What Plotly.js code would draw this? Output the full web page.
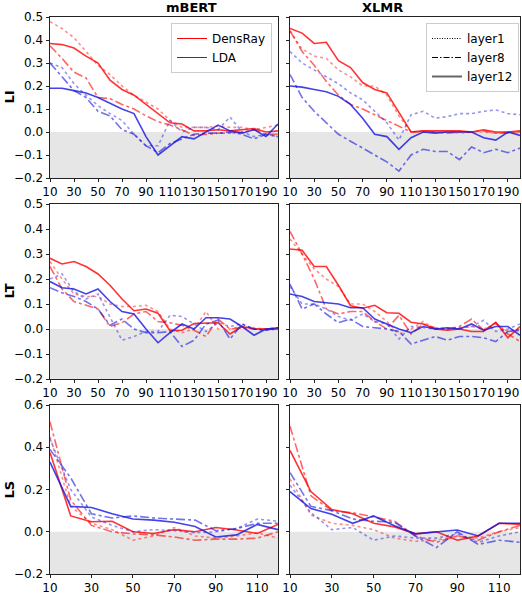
<!DOCTYPE html>
<html>
<head>
<meta charset="utf-8">
<script src="https://cdn.plot.ly/plotly-3.0.1.min.js"></script>
<style>
  body { margin: 0; background: #fff; }
  #chart { width: 522px; height: 596px; }
</style>
</head>
<body>
<div id="chart"></div>
<script>
// x steps
const xLong = [10, 20, 30, 40, 50, 60, 70, 80, 90, 100, 110, 120, 130, 140, 150, 160, 170, 180, 190, 200];
const xShort = [10, 20, 30, 40, 50, 60, 70, 80, 90, 100, 110, 120];

// LI, mBERT
const liBertDR1 = [0.48, 0.45, 0.41, 0.35, 0.29, 0.25, 0.2, 0.16, 0.13, 0.1, 0.05, 0.02, 0.02, 0.02, 0.025, 0.02, 0.02, 0.01, 0.02, 0.03];
const liBertDR8 = [0.375, 0.32, 0.26, 0.235, 0.15, 0.145, 0.12, 0.1, 0.07, 0.045, 0.03, 0.01, -0.015, -0.01, -0.005, -0.005, 0.0, 0.01, -0.01, -0.01];
const liBertDR12 = [0.385, 0.38, 0.365, 0.33, 0.3, 0.225, 0.185, 0.16, 0.12, 0.08, 0.04, 0.035, 0.005, 0.005, 0.01, 0.005, 0.01, 0.015, 0.0, 0.005];
const liBertLDA1 = [0.3, 0.28, 0.21, 0.16, 0.115, 0.08, 0.05, -0.01, -0.06, -0.06, 0.05, 0.0, 0.02, 0.02, 0.01, 0.065, 0.0, -0.02, -0.01, -0.02];
const liBertLDA8 = [0.3, 0.24, 0.18, 0.15, 0.09, 0.07, 0.01, -0.01, -0.06, -0.09, -0.05, -0.03, -0.01, -0.005, -0.005, 0.0, -0.01, -0.03, -0.01, -0.02];
const liBertLDA12 = [0.19, 0.19, 0.18, 0.17, 0.15, 0.125, 0.1, 0.08, -0.02, -0.1, -0.06, -0.02, -0.03, 0.0, 0.03, 0.005, -0.005, 0.01, -0.02, 0.035];

// LI, XLMR
const liXlmrDR1 = [0.44, 0.36, 0.33, 0.32, 0.27, 0.24, 0.2, 0.2, 0.16, 0.07, 0.0, 0.005, 0.0, 0.0, -0.005, 0.0, 0.0, -0.005, 0.0, -0.005];
const liXlmrDR8 = [0.44, 0.35, 0.29, 0.22, 0.16, 0.12, 0.1, 0.075, 0.05, 0.025, 0.0, 0.0, 0.0, -0.005, 0.0, 0.0, 0.005, -0.005, -0.005, 0.0];
const liXlmrDR12 = [0.45, 0.43, 0.385, 0.39, 0.31, 0.28, 0.215, 0.185, 0.17, 0.085, 0.0, 0.005, 0.005, 0.005, 0.005, 0.0, 0.01, 0.0, 0.0, 0.005];
const liXlmrLDA1 = [0.35, 0.3, 0.27, 0.24, 0.21, 0.17, 0.14, 0.09, 0.04, -0.035, 0.075, 0.09, 0.06, 0.067, 0.08, 0.08, 0.09, 0.096, 0.08, 0.075];
const liXlmrLDA8 = [0.25, 0.15, 0.09, 0.04, -0.01, -0.04, -0.07, -0.1, -0.13, -0.17, -0.1, -0.075, -0.085, -0.085, -0.12, -0.065, -0.09, -0.075, -0.09, -0.07];
const liXlmrLDA12 = [0.2, 0.195, 0.185, 0.175, 0.155, 0.12, 0.06, -0.01, -0.02, -0.075, -0.025, 0.0, -0.005, 0.0, 0.0, 0.0, -0.025, -0.035, 0.0, -0.015];

// LT, mBERT
const ltBertDR1 = [0.27, 0.2, 0.14, 0.13, 0.13, 0.1, 0.09, 0.09, 0.095, 0.07, 0.0, -0.015, 0.0, 0.07, 0.0, 0.0, 0.01, 0.005, 0.0, 0.005];
const ltBertDR8 = [0.25, 0.16, 0.11, 0.095, 0.08, 0.01, 0.025, 0.06, 0.07, 0.03, 0.025, 0.015, -0.005, -0.03, 0.04, 0.0, 0.005, 0.0, 0.0, 0.0];
const ltBertDR12 = [0.283, 0.26, 0.27, 0.25, 0.22, 0.175, 0.12, 0.073, 0.08, 0.063, -0.007, -0.005, 0.022, 0.025, 0.025, -0.02, 0.01, 0.0, 0.0, 0.0];
const ltBertLDA1 = [0.2, 0.22, 0.15, 0.12, 0.14, 0.05, -0.045, -0.03, -0.01, -0.01, 0.055, 0.05, 0.02, -0.01, 0.025, 0.01, 0.02, 0.0, -0.005, 0.0];
const ltBertLDA8 = [0.165, 0.145, 0.13, 0.11, 0.08, 0.015, 0.04, 0.0, -0.015, -0.015, -0.01, -0.07, -0.045, 0.02, 0.035, -0.04, 0.02, 0.0, -0.005, 0.005];
const ltBertLDA12 = [0.19, 0.165, 0.16, 0.14, 0.16, 0.11, 0.07, 0.06, 0.0, -0.055, -0.015, 0.02, 0.0, 0.045, 0.045, 0.04, 0.01, -0.025, 0.0, 0.005];

// LT, XLMR
const ltXlmrDR1 = [0.36, 0.3, 0.24, 0.2, 0.17, 0.1, 0.1, 0.07, 0.03, -0.02, 0.0, 0.03, 0.0, 0.0, 0.0, 0.01, 0.0, 0.02, -0.01, 0.0];
const ltXlmrDR8 = [0.39, 0.3, 0.2, 0.08, 0.06, 0.07, 0.07, 0.03, 0.0, 0.055, -0.02, 0.02, 0.005, 0.0, 0.01, 0.04, -0.005, 0.025, -0.02, -0.05];
const ltXlmrDR12 = [0.32, 0.315, 0.25, 0.25, 0.175, 0.093, 0.083, 0.095, 0.065, 0.063, 0.027, 0.02, 0.0, -0.005, 0.0, -0.01, -0.01, 0.027, -0.035, 0.01];
const ltXlmrLDA1 = [0.17, 0.1, 0.1, 0.08, 0.05, 0.035, 0.06, 0.03, 0.02, -0.04, 0.01, 0.005, 0.0, 0.0, 0.005, 0.01, 0.035, -0.01, 0.0, 0.02];
const ltXlmrLDA8 = [0.18, 0.08, 0.1, 0.06, 0.025, 0.04, 0.01, 0.005, 0.0, -0.01, -0.06, -0.045, -0.03, -0.045, -0.03, -0.03, -0.035, -0.05, -0.01, -0.005];
const ltXlmrLDA12 = [0.14, 0.13, 0.11, 0.105, 0.1, 0.085, 0.085, 0.04, 0.02, 0.0, -0.015, 0.01, 0.0, 0.005, 0.0, 0.02, -0.005, 0.01, 0.01, -0.025];

// LS, mBERT
const lsBertDR1 = [0.45, 0.12, 0.04, 0.01, -0.04, -0.02, 0.02, -0.02, -0.03, -0.02, -0.005, -0.03];
const lsBertDR8 = [0.52, 0.15, 0.03, 0.0, -0.01, -0.015, -0.025, -0.04, -0.035, -0.035, -0.03, 0.0];
const lsBertDR12 = [0.375, 0.075, 0.047, 0.05, 0.0, -0.008, 0.01, 0.0, 0.02, 0.008, -0.008, 0.035];
const lsBertLDA1 = [0.44, 0.2, 0.07, 0.03, 0.0, 0.01, 0.005, -0.005, 0.0, 0.015, 0.06, 0.05];
const lsBertLDA8 = [0.39, 0.255, 0.085, 0.065, 0.075, 0.065, 0.06, 0.055, 0.005, 0.015, 0.04, 0.04];
const lsBertLDA12 = [0.33, 0.12, 0.115, 0.085, 0.06, 0.055, 0.045, 0.025, -0.025, -0.015, 0.035, 0.01];

// LS, XLMR
const lsXlmrDR1 = [0.25, 0.08, 0.04, 0.03, 0.01, -0.03, -0.045, -0.04, -0.02, -0.03, 0.0, 0.02];
const lsXlmrDR8 = [0.5, 0.17, 0.1, 0.09, 0.07, 0.05, -0.02, -0.05, -0.02, -0.04, 0.0, 0.03];
const lsXlmrDR12 = [0.385, 0.19, 0.105, 0.085, 0.04, 0.023, -0.01, 0.0, -0.04, -0.02, 0.04, 0.035];
const lsXlmrLDA1 = [0.22, 0.09, 0.01, 0.02, -0.04, -0.02, -0.03, -0.03, -0.01, -0.05, -0.02, 0.0];
const lsXlmrLDA8 = [0.28, 0.12, 0.1, 0.06, 0.05, 0.045, -0.02, -0.075, 0.0, -0.06, -0.04, -0.05];
const lsXlmrLDA12 = [0.19, 0.11, 0.083, 0.04, 0.075, 0.028, -0.01, 0.0, 0.008, -0.02, 0.04, 0.04];

const RED = '255,0,0';
const BLUE = '20,20,225';

const layerStyle = [
    {dash: 'dot', alpha: 0.45, width: 1.6},
    {dash: 'dashdot', alpha: 0.6, width: 1.6},
    {dash: 'solid', alpha: 0.8, width: 1.6}
];

const traces = [];

function addPanel(n, xs, dr, lda) {
    const xa = n === 1 ? 'x' : 'x' + n;
    const ya = n === 1 ? 'y' : 'y' + n;
    [[dr, RED], [lda, BLUE]].forEach(([group, rgb]) => {
        group.forEach((ys, i) => {
            const s = layerStyle[i];
            traces.push({
                x: xs, y: ys, xaxis: xa, yaxis: ya,
                mode: 'lines', showlegend: false, hoverinfo: 'skip',
                line: {color: 'rgba(' + rgb + ',' + s.alpha + ')', width: s.width, dash: s.dash}
            });
        });
    });
}

addPanel(1, xLong, [liBertDR1, liBertDR8, liBertDR12], [liBertLDA1, liBertLDA8, liBertLDA12]);
addPanel(2, xLong, [liXlmrDR1, liXlmrDR8, liXlmrDR12], [liXlmrLDA1, liXlmrLDA8, liXlmrLDA12]);
addPanel(3, xLong, [ltBertDR1, ltBertDR8, ltBertDR12], [ltBertLDA1, ltBertLDA8, ltBertLDA12]);
addPanel(4, xLong, [ltXlmrDR1, ltXlmrDR8, ltXlmrDR12], [ltXlmrLDA1, ltXlmrLDA8, ltXlmrLDA12]);
addPanel(5, xShort, [lsBertDR1, lsBertDR8, lsBertDR12], [lsBertLDA1, lsBertLDA8, lsBertLDA12]);
addPanel(6, xShort, [lsXlmrDR1, lsXlmrDR8, lsXlmrDR12], [lsXlmrLDA1, lsXlmrLDA8, lsXlmrLDA12]);

// legend-only entries
traces.push({x: [null], y: [null], mode: 'lines', name: 'DensRay', legend: 'legend',
    line: {color: 'rgb(255,0,0)', width: 1}});
traces.push({x: [null], y: [null], mode: 'lines', name: 'LDA', legend: 'legend',
    line: {color: 'rgb(40,40,235)', width: 1}});
traces.push({x: [null], y: [null], mode: 'lines', name: 'layer1', legend: 'legend2',
    line: {color: '#000', width: 1, dash: '1px,1.5px'}});
traces.push({x: [null], y: [null], mode: 'lines', name: 'layer8', legend: 'legend2',
    line: {color: '#000', width: 1, dash: '6px,2px,1.5px,2px'}});
traces.push({x: [null], y: [null], mode: 'lines', name: 'layer12', legend: 'legend2',
    line: {color: '#666', width: 2}});

const W = 522, H = 596;
const colX = [[50, 278], [290, 520]];
const rowY = [[17, 178], [204, 379], [405, 574]];
const FONT = 'DejaVu Sans, sans-serif';

function xAxis(col, row, long) {
    return {
        domain: [colX[col][0] / W, colX[col][1] / W],
        anchor: 'y' + (row * 2 + col + 1 === 1 ? '' : row * 2 + col + 1),
        range: long ? [10, 200] : [10, 120],
        tickvals: long ? [10, 30, 50, 70, 90, 110, 130, 150, 170, 190] : [10, 30, 50, 70, 90, 110],
        tickangle: 0,
        ticks: 'outside', ticklen: long ? 3 : 2.5, tickcolor: '#222',
        showline: true, mirror: true, linecolor: '#222', linewidth: 1,
        showgrid: false, zeroline: false,
        tickfont: {size: 12, color: '#000'}
    };
}

function yAxis(col, row, ls) {
    const n = row * 2 + col + 1;
    return {
        domain: [1 - rowY[row][1] / H, 1 - rowY[row][0] / H],
        anchor: 'x' + (n === 1 ? '' : n),
        range: ls ? [-0.2, 0.6] : [-0.2, 0.5],
        tickvals: ls ? [-0.2, 0, 0.2, 0.4, 0.6] : [-0.2, -0.1, 0, 0.1, 0.2, 0.3, 0.4, 0.5],
        ticktext: ls ? ['\u22120.2', '0.0', '0.2', '0.4', '0.6']
                     : ['\u22120.2', '\u22120.1', '0.0', '0.1', '0.2', '0.3', '0.4', '0.5'],
        showticklabels: col === 0,
        ticks: 'outside', ticklen: 3.5, tickcolor: '#222',
        showline: true, mirror: true, linecolor: '#222', linewidth: 1,
        showgrid: false, zeroline: false,
        tickfont: {size: 12, color: '#000'}
    };
}

const layout = {
    width: W, height: H,
    margin: {l: 0, r: 0, t: 0, b: 0},
    paper_bgcolor: '#fff', plot_bgcolor: '#fff',
    font: {family: FONT, size: 12, color: '#000'},
    xaxis: xAxis(0, 0, true), yaxis: yAxis(0, 0, false),
    xaxis2: xAxis(1, 0, true), yaxis2: yAxis(1, 0, false),
    xaxis3: xAxis(0, 1, true), yaxis3: yAxis(0, 1, false),
    xaxis4: xAxis(1, 1, true), yaxis4: yAxis(1, 1, false),
    xaxis5: xAxis(0, 2, false), yaxis5: yAxis(0, 2, true),
    xaxis6: xAxis(1, 2, false), yaxis6: yAxis(1, 2, true),
    legend: {
        x: 272 / W, y: 1 - 23 / H, xanchor: 'right', yanchor: 'top',
        bgcolor: 'rgba(255,255,255,0.9)', bordercolor: '#ccc', borderwidth: 1,
        font: {size: 12, family: FONT}, tracegroupgap: 0
    },
    legend2: {
        x: 519 / W, y: 1 - 23 / H, xanchor: 'right', yanchor: 'top',
        bgcolor: 'rgba(255,255,255,0.9)', bordercolor: '#ccc', borderwidth: 1,
        font: {size: 12, family: FONT}, tracegroupgap: 0
    },
    shapes: [],
    annotations: []
};

// grey band below zero in every panel
for (let n = 1; n <= 6; n++) {
    const s = n === 1 ? '' : n;
    layout.shapes.push({
        type: 'rect', layer: 'below', xref: 'x' + s + ' domain', yref: 'y' + s,
        x0: 0, x1: 1, y0: -0.2, y1: 0,
        fillcolor: '#e6e6e6', line: {width: 0}
    });
}

// column titles
[['mBERT', 0], ['XLMR', 1]].forEach(([txt, c]) => {
    layout.annotations.push({
        text: '<b>' + txt + '</b>', xref: 'paper', yref: 'paper', showarrow: false,
        x: (colX[c][0] + colX[c][1]) / 2 / W, y: 1 - 8 / H, yanchor: 'middle',
        font: {size: 13, family: FONT}
    });
});

// row titles
[['LI', 0], ['LT', 1], ['LS', 2]].forEach(([txt, r]) => {
    layout.annotations.push({
        text: '<b>' + txt + '</b>', xref: 'paper', yref: 'paper', showarrow: false,
        x: 9 / W, y: 1 - (rowY[r][0] + rowY[r][1]) / 2 / H, textangle: -90,
        xanchor: 'center', yanchor: 'middle',
        font: {size: 13, family: FONT}
    });
});

Plotly.newPlot('chart', traces, layout, {staticPlot: true});
</script>
</body>
</html>
